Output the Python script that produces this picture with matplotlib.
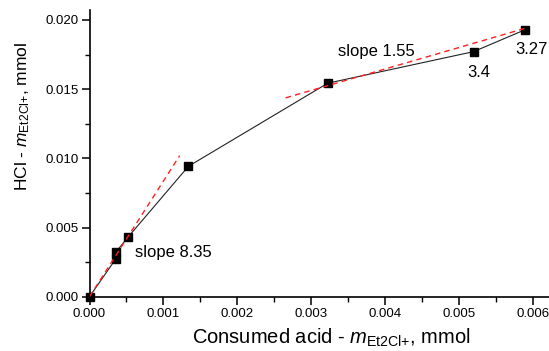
import matplotlib
matplotlib.use("Agg")
import matplotlib.pyplot as plt
from matplotlib.ticker import MultipleLocator, FormatStrFormatter

plt.rcParams['font.family'] = ['Liberation Sans', 'DejaVu Sans']
plt.rcParams['mathtext.fontset'] = 'custom'
plt.rcParams['mathtext.rm'] = 'Liberation Sans'
plt.rcParams['mathtext.it'] = 'Liberation Sans:italic'

# Data
consumed = [0.0, 0.000355, 0.000355, 0.00052, 0.001336, 0.00322, 0.00519, 0.00589]
hcl = [0.0, 0.00273, 0.00321, 0.0043, 0.00942, 0.01543, 0.01771, 0.0193]

fit1_x = [0.0, 0.001218]
fit1_y = [0.0, 0.01019]
fit2_x = [0.00265, 0.00589]
fit2_y = [0.01437, 0.01940]

labels = ["slope 8.35", "slope 1.55", "3.4", "3.27"]
label_xy = [(0.000616, 0.00321), (0.003355, 0.01771), (0.00526, 0.01618), (0.005758, 0.01783)]
label_ha = ["left", "left", "center", "left"]

fig = plt.figure(figsize=(5.49, 3.51), dpi=100)
ax = fig.add_axes([89.5/549, (351-296.7)/351, (549-89.5)/549, (296.7-10)/351])

ax.plot(fit1_x, fit1_y, color='#ff2020', ls=(0, (4, 3)), lw=1.0, zorder=3)
ax.plot(fit2_x, fit2_y, color='#ff2020', ls=(0, (4, 3)), lw=1.0, zorder=3)
ax.plot(consumed, hcl, color='#222222', lw=0.8, marker='s', ms=6,
        mfc='black', mec='black', zorder=2, clip_on=False)

for t, (x, y), ha in zip(labels, label_xy, label_ha):
    ax.text(x, y, t, fontsize=12, ha=ha, va='center')

ax.set_xlim(0, 0.00621)
ax.set_ylim(0, 0.02072)
ax.spines['top'].set_visible(False)
ax.spines['right'].set_visible(False)
ax.spines['left'].set_linewidth(1.2)
ax.spines['bottom'].set_linewidth(1.2)

ax.xaxis.set_major_locator(MultipleLocator(0.001))
ax.xaxis.set_minor_locator(MultipleLocator(0.0005))
ax.yaxis.set_major_locator(MultipleLocator(0.005))
ax.yaxis.set_minor_locator(MultipleLocator(0.0025))
ax.xaxis.set_major_formatter(FormatStrFormatter('%.3f'))
ax.yaxis.set_major_formatter(FormatStrFormatter('%.3f'))
ax.tick_params(which='major', direction='out', length=6, width=1.1, labelsize=9.5, pad=2)
ax.tick_params(which='minor', direction='out', length=3.5, width=1.0)

ax.set_xlabel(r'Consumed acid - $\mathit{m}_{\mathrm{Et2Cl{+}}}$, mmol', fontsize=14.5)
ax.set_ylabel(r'HCl - $\mathit{m}_{\mathrm{Et2Cl{+}}}$, mmol', fontsize=12.5)
ax.xaxis.set_label_coords(0.527, -0.105)
ax.yaxis.set_label_coords(-0.125, 0.63)

fig.savefig('out.png', dpi=100)
